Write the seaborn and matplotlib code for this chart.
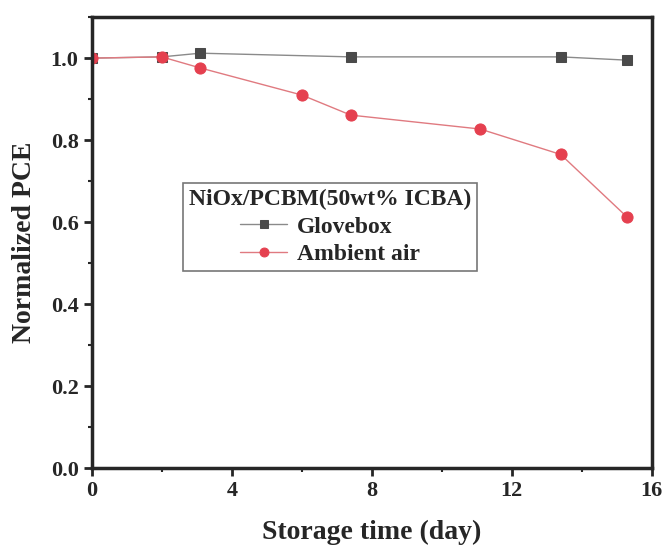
import pandas as pd
import matplotlib
matplotlib.use("Agg")
import matplotlib.pyplot as plt
import seaborn as sns
from matplotlib.ticker import MultipleLocator

# === Data ===
glove_day = [0, 2, 3.1, 7.4, 13.4, 15.3]
glove_pce = [1.0, 1.003, 1.012, 1.003, 1.003, 0.995]
air_day = [0, 2, 3.1, 6.0, 7.4, 11.1, 13.4, 15.3]
air_pce = [1.0, 1.003, 0.976, 0.91, 0.861, 0.827, 0.765, 0.612]

series_names = ["Glovebox", "Ambient air"]
legend_title = "NiOx/PCBM(50wt% ICBA)"

df = pd.concat([
    pd.DataFrame({"day": glove_day, "pce": glove_pce, "cond": series_names[0]}),
    pd.DataFrame({"day": air_day, "pce": air_pce, "cond": series_names[1]}),
])

sns.set_style("ticks")
plt.rcParams["font.family"] = ["Liberation Serif", "DejaVu Serif"]
plt.rcParams["font.weight"] = "bold"

fig = plt.figure(figsize=(6.65, 5.52), dpi=100)
ax = fig.add_axes([0.138, 0.152, 0.842, 0.817])

# === Lines ===
styles = {
    "Glovebox": dict(color="#8a8a8a", marker="s", ms=7, mfc="#4a4a4a", mec="#4a4a4a"),
    "Ambient air": dict(color="#e07a80", marker="o", ms=8, mfc="#e5404f", mec="#e5404f"),
}
for name in series_names:
    sub = df[df["cond"] == name]
    st = styles[name]
    sns.lineplot(data=sub, x="day", y="pce", ax=ax, color=st["color"],
                 marker=st["marker"], markersize=st["ms"], markerfacecolor=st["mfc"],
                 markeredgecolor=st["mec"], linewidth=1.0, label=name,
                 sort=False)

# === Axes styling ===
ax.set_xlim(0, 16)
ax.set_ylim(0, 1.1)
ax.xaxis.set_major_locator(MultipleLocator(4))
ax.xaxis.set_minor_locator(MultipleLocator(2))
ax.yaxis.set_major_locator(MultipleLocator(0.2))
ax.yaxis.set_minor_locator(MultipleLocator(0.1))
ax.yaxis.set_major_formatter(matplotlib.ticker.FormatStrFormatter("%.1f"))
ax.tick_params(which="major", length=6, width=2, labelsize=16, direction="out")
ax.tick_params(which="minor", length=3, width=1.5, direction="out")
for s in ax.spines.values():
    s.set_linewidth(2.5)
    s.set_visible(True)

ax.set_xlabel("Storage time (day)", fontsize=20, fontweight="bold", labelpad=13)
ax.set_ylabel("Normalized PCE", fontsize=20, fontweight="bold", labelpad=10)

leg = ax.legend(title=legend_title, loc="upper left", bbox_to_anchor=(0.163, 0.632),
                borderaxespad=0, fontsize=17, title_fontsize=17, frameon=True,
                fancybox=False, edgecolor="#555555", handlelength=2.0, borderpad=0.25,
                labelspacing=0.25, handletextpad=0.4, markerscale=0.8)
leg.get_title().set_fontweight("bold")
leg.get_frame().set_linewidth(1.2)

fig.savefig("out.png", dpi=100)
